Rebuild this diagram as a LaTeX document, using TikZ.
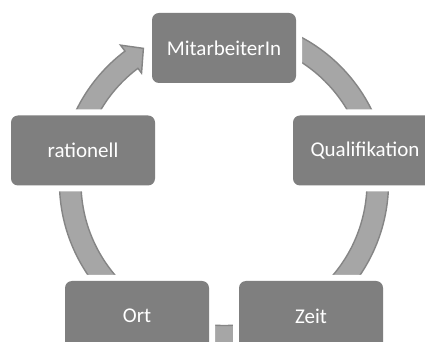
\documentclass[tikz,border=0pt]{standalone}
\usepackage{fontspec}
\setmainfont{Carlito}
\definecolor{boxgray}{HTML}{7F7F7F}
\definecolor{ringfill}{HTML}{A6A6A6}
\definecolor{ringline}{HTML}{858585}
\begin{document}
\begin{tikzpicture}[x=1pt,y=1pt,
  cyclebox/.style={rectangle, rounded corners=7pt, minimum width=144pt, minimum height=70pt,
    fill=boxgray, text=white, inner sep=0pt,
    font=\fontsize{21}{25}\selectfont,
    preaction={draw=white, line width=12pt}}]
\useasboundingbox (0,0) rectangle (425,342);
\clip (0,0) rectangle (425,342);
\fill[white] (0,0) rectangle (425,342);
% circular arrow
\begin{scope}[shift={(224,159.5)}]
\filldraw[fill=ringfill, draw=ringline, line width=1.4pt, line join=miter]
  (80:164.5) arc[start angle=80, end angle=-233, radius=164.5]
  -- (-233:172) -- (-239:156.5) -- (-233:137) -- (-233:143)
  arc[start angle=-233, end angle=80, radius=143] -- cycle;
\end{scope}
% boxes
\node[cyclebox] (m) at (224,294) {MitarbeiterIn};
\node[cyclebox] (q) at (365,191.5) {Qualifikation};
\node[cyclebox] (z) at (311,26) {Zeit};
\node[cyclebox] (o) at (137,26) {Ort};
\node[cyclebox] (r) at (83,191.5) {rationell};
\end{tikzpicture}
\end{document}
